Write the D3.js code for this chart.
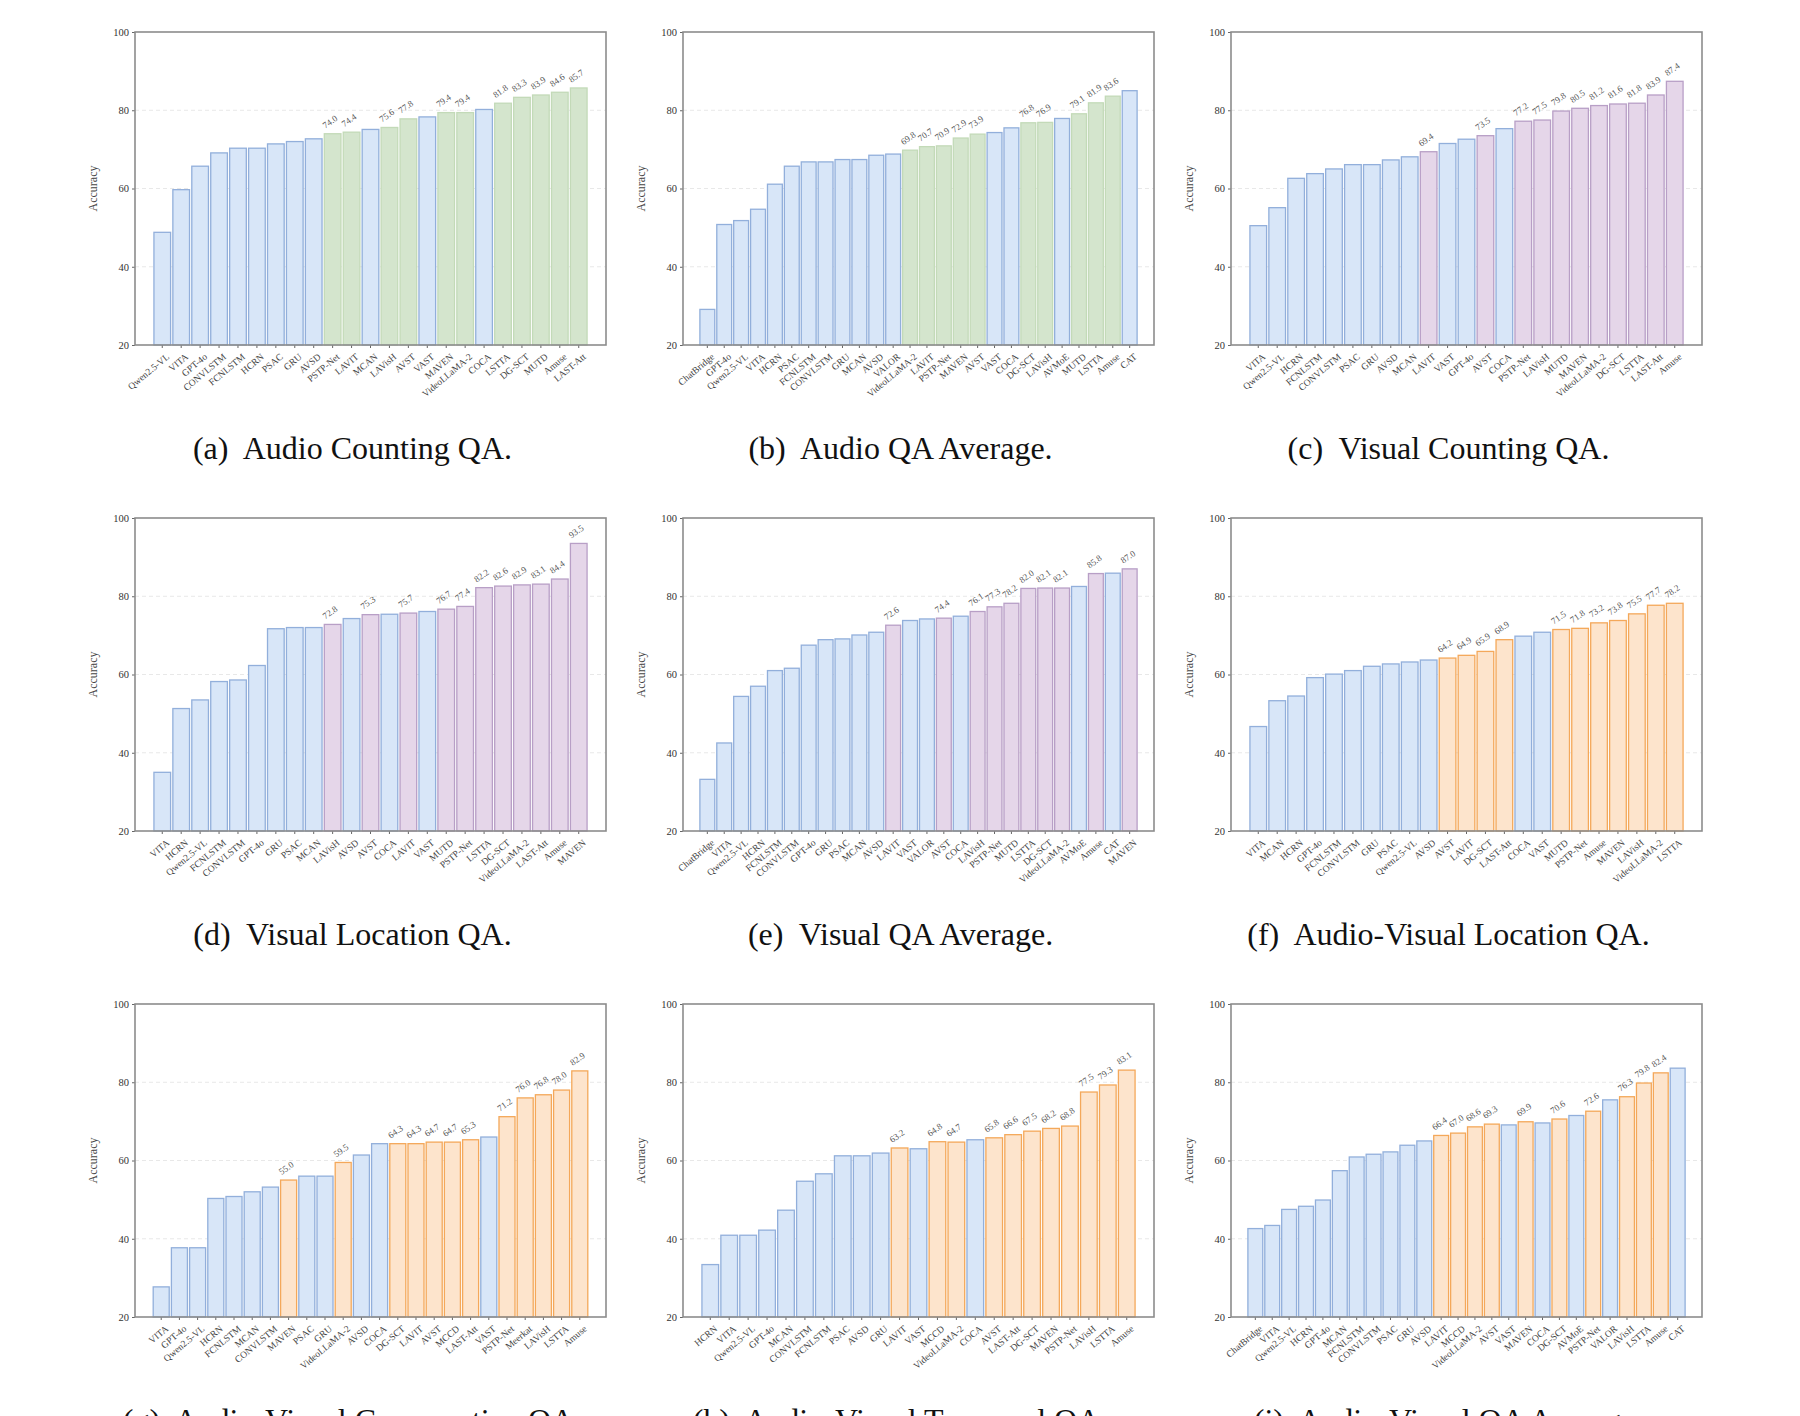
<!DOCTYPE html>
<html>
<head>
<meta charset="utf-8">
<script src="https://cdn.jsdelivr.net/npm/d3@7"></script>
<style>
  body { margin: 0; background: #fff; }
  text { font-family: "Liberation Serif", "DejaVu Serif", serif; }
</style>
</head>
<body>
<svg id="fig" width="1800" height="1416"></svg>
<script>
// panel data: model names, accuracy, and which bars are highlighted
var namesA = ["Qwen2.5-VL","VITA","GPT-4o","CONVLSTM","FCNLSTM","HCRN","PSAC","GRU","AVSD","PSTP-Net","LAVIT","MCAN","LAVisH","AVST","VAST","MAVEN","VideoLLaMA-2","COCA","LSTTA","DG-SCT","MUTD","Amuse","LAST-Att"];
var valsA = [48.8,59.7,65.7,69.1,70.3,70.3,71.4,72.0,72.7,74.0,74.4,75.1,75.6,77.8,78.3,79.4,79.4,80.2,81.8,83.3,83.9,84.6,85.7];
var hiA = [9,10,12,13,15,16,18,19,20,21,22];

var namesB = ["ChatBridge","GPT-4o","Qwen2.5-VL","VITA","HCRN","PSAC","FCNLSTM","CONVLSTM","GRU","MCAN","AVSD","VALOR","VideoLLaMA-2","LAVIT","PSTP-Net","MAVEN","AVST","VAST","COCA","DG-SCT","LAVisH","AVMoE","MUTD","LSTTA","Amuse","CAT"];
var valsB = [29.1,50.8,51.8,54.7,61.1,65.7,66.8,66.8,67.4,67.4,68.5,68.8,69.8,70.7,70.9,72.9,73.9,74.3,75.5,76.8,76.9,77.9,79.1,81.9,83.6,85.0];
var hiB = [12,13,14,15,16,19,20,22,23,24];

var namesC = ["VITA","Qwen2.5-VL","HCRN","FCNLSTM","CONVLSTM","PSAC","GRU","AVSD","MCAN","LAVIT","VAST","GPT-4o","AVST","COCA","PSTP-Net","LAVisH","MUTD","MAVEN","VideoLLaMA-2","DG-SCT","LSTTA","LAST-Att","Amuse"];
var valsC = [50.5,55.1,62.6,63.8,65.0,66.1,66.1,67.3,68.1,69.4,71.5,72.6,73.5,75.3,77.2,77.5,79.8,80.5,81.2,81.6,81.8,83.9,87.4];
var hiC = [9,12,14,15,16,17,18,19,20,21,22];

var namesD = ["VITA","HCRN","Qwen2.5-VL","FCNLSTM","CONVLSTM","GPT-4o","GRU","PSAC","MCAN","LAVisH","AVSD","AVST","COCA","LAVIT","VAST","MUTD","PSTP-Net","LSTTA","DG-SCT","VideoLLaMA-2","LAST-Att","Amuse","MAVEN"];
var valsD = [35.0,51.3,53.5,58.2,58.6,62.3,71.7,72.0,72.0,72.8,74.3,75.3,75.4,75.7,76.1,76.7,77.4,82.2,82.6,82.9,83.1,84.4,93.5];
var hiD = [9,11,13,15,16,17,18,19,20,21,22];

var namesE = ["ChatBridge","VITA","Qwen2.5-VL","HCRN","FCNLSTM","CONVLSTM","GPT-4o","GRU","PSAC","MCAN","AVSD","LAVIT","VAST","VALOR","AVST","COCA","LAVisH","PSTP-Net","MUTD","LSTTA","DG-SCT","VideoLLaMA-2","AVMoE","Amuse","CAT","MAVEN"];
var valsE = [33.2,42.5,54.4,57.0,61.0,61.6,67.5,68.9,69.1,70.1,70.8,72.6,73.8,74.2,74.4,74.9,76.1,77.3,78.2,82.0,82.1,82.1,82.5,85.8,85.9,87.0];
var hiE = [11,14,16,17,18,19,20,21,23,25];

var namesF = ["VITA","MCAN","HCRN","GPT-4o","FCNLSTM","CONVLSTM","GRU","PSAC","Qwen2.5-VL","AVSD","AVST","LAVIT","DG-SCT","LAST-Att","COCA","VAST","MUTD","PSTP-Net","Amuse","MAVEN","LAVisH","VideoLLaMA-2","LSTTA"];
var valsF = [46.7,53.3,54.5,59.2,60.1,61.0,62.1,62.7,63.2,63.7,64.2,64.9,65.9,68.9,69.8,70.8,71.5,71.8,73.2,73.8,75.5,77.7,78.2];
var hiF = [10,11,12,13,16,17,18,19,20,21,22];

var namesG = ["VITA","GPT-4o","Qwen2.5-VL","HCRN","FCNLSTM","MCAN","CONVLSTM","MAVEN","PSAC","GRU","VideoLLaMA-2","AVSD","COCA","DG-SCT","LAVIT","AVST","MCCD","LAST-Att","VAST","PSTP-Net","Meerkat","LAVisH","LSTTA","Amuse"];
var valsG = [27.7,37.7,37.7,50.3,50.8,52.0,53.2,55.0,56.0,56.0,59.5,61.4,64.3,64.3,64.3,64.7,64.7,65.3,66.0,71.2,76.0,76.8,78.0,82.9];
var hiG = [7,10,13,14,15,16,17,19,20,21,22,23];

var namesH = ["HCRN","VITA","Qwen2.5-VL","GPT-4o","MCAN","CONVLSTM","FCNLSTM","PSAC","AVSD","GRU","LAVIT","VAST","MCCD","VideoLLaMA-2","COCA","AVST","LAST-Att","DG-SCT","MAVEN","PSTP-Net","LAVisH","LSTTA","Amuse"];
var valsH = [33.4,40.9,40.9,42.2,47.3,54.7,56.6,61.2,61.2,61.9,63.2,63.0,64.8,64.7,65.3,65.8,66.6,67.5,68.2,68.8,77.5,79.3,83.1];
var hiH = [10,12,13,15,16,17,18,19,20,21,22];

var namesI = ["ChatBridge","VITA","Qwen2.5-VL","HCRN","GPT-4o","MCAN","FCNLSTM","CONVLSTM","PSAC","GRU","AVSD","LAVIT","MCCD","VideoLLaMA-2","AVST","VAST","MAVEN","COCA","DG-SCT","AVMoE","PSTP-Net","VALOR","LAVisH","LSTTA","Amuse","CAT"];
var valsI = [42.6,43.4,47.5,48.3,49.9,57.4,60.9,61.6,62.2,63.9,65.0,66.4,67.0,68.6,69.3,69.1,69.9,69.6,70.6,71.5,72.6,75.5,76.3,79.8,82.4,83.6];
var hiI = [11,12,13,14,16,18,20,22,23,24];

var captions = ["(a)  Audio Counting QA.","(b)  Audio QA Average.","(c)  Visual Counting QA.",
  "(d)  Visual Location QA.","(e)  Visual QA Average.","(f)  Audio-Visual Location QA.",
  "(g)  Audio-Visual Comparative QA.","(h)  Audio-Visual Temporal QA.","(i)  Audio-Visual QA Average."];
var yTicks = [20,40,60,80,100];

var blue = {fill:"#d8e6f8", stroke:"#92afdb"};
var palettes = {
  green: {fill:"#d4e5cd", stroke:"#c3dab8"},
  purple:{fill:"#e5d6e9", stroke:"#b89fc6"},
  orange:{fill:"#fde4cc", stroke:"#f4a85a"}
};

var panels = [
  {names:namesA, vals:valsA, hi:hiA, pal:"green"},
  {names:namesB, vals:valsB, hi:hiB, pal:"green"},
  {names:namesC, vals:valsC, hi:hiC, pal:"purple"},
  {names:namesD, vals:valsD, hi:hiD, pal:"purple"},
  {names:namesE, vals:valsE, hi:hiE, pal:"purple"},
  {names:namesF, vals:valsF, hi:hiF, pal:"orange"},
  {names:namesG, vals:valsG, hi:hiG, pal:"orange"},
  {names:namesH, vals:valsH, hi:hiH, pal:"orange"},
  {names:namesI, vals:valsI, hi:hiI, pal:"orange"}
];

var colX = [135, 683, 1231];
var rowY = [32, 518, 1004];
var W = 471, H = 313;

var svg = d3.select("#fig");

panels.forEach(function (p, k) {
  var g = svg.append("g")
    .attr("transform", "translate(" + colX[k % 3] + "," + rowY[Math.floor(k / 3)] + ")");

  var x = d3.scaleBand().domain(p.names).range([0, W]).paddingInner(0.12).paddingOuter(1.0);
  var y = d3.scaleLinear().domain([20, 100]).range([H, 0]);

  // grid
  g.selectAll(".grid").data([40, 60, 80]).enter().append("line")
    .attr("x1", 0).attr("x2", W)
    .attr("y1", function (d) { return y(d); }).attr("y2", function (d) { return y(d); })
    .attr("stroke", "#e2e2e2").attr("stroke-dasharray", "4,3").attr("stroke-width", 0.8);

  var data = p.names.map(function (n, i) {
    return {name: n, val: p.vals[i], hi: p.hi.indexOf(i) >= 0};
  });
  var pal = palettes[p.pal];

  g.selectAll(".bar").data(data).enter().append("rect")
    .attr("x", function (d) { return x(d.name); })
    .attr("width", x.bandwidth())
    .attr("y", function (d) { return y(d.val); })
    .attr("height", function (d) { return H - y(d.val); })
    .attr("fill", function (d) { return d.hi ? pal.fill : blue.fill; })
    .attr("stroke", function (d) { return d.hi ? pal.stroke : blue.stroke; })
    .attr("stroke-width", 1.3);

  // value labels on highlighted bars
  g.selectAll(".val").data(data.filter(function (d) { return d.hi; })).enter().append("text")
    .attr("transform", function (d) {
      return "translate(" + (x(d.name) + 1) + "," + (y(d.val) - 5) + ") rotate(-35)";
    })
    .attr("font-size", 9).attr("fill", "#555")
    .text(function (d) { return d.val.toFixed(1); });

  var yAxis = d3.axisLeft(y).tickValues(yTicks).tickSize(3).tickFormat(d3.format("d"));
  var ya = g.append("g").call(yAxis);
  ya.select(".domain").remove();
  ya.selectAll("text").attr("font-size", 10.5).attr("fill", "#333").attr("font-family", "Liberation Serif");
  ya.selectAll("line").attr("stroke", "#666");

  var xAxis = d3.axisBottom(x).tickSize(3);
  var xa = g.append("g").attr("transform", "translate(0," + H + ")").call(xAxis);
  xa.select(".domain").remove();
  xa.selectAll("line").attr("stroke", "#666");
  xa.selectAll("text")
    .attr("font-size", 9.5).attr("fill", "#444").attr("font-family", "Liberation Serif")
    .attr("text-anchor", "end")
    .attr("dy", "0.3em").attr("dx", "0")
    .attr("transform", "translate(2,6) rotate(-40)");

  // frame
  g.append("rect").attr("width", W).attr("height", H)
    .attr("fill", "none").attr("stroke", "#8c8c8c").attr("stroke-width", 1.6);

  g.append("text")
    .attr("transform", "translate(-38," + (H / 2) + ") rotate(-90)")
    .attr("text-anchor", "middle").attr("font-size", 12).attr("fill", "#444")
    .text("Accuracy");

  // captions of the last row are cut by the page edge, as in the reference
  g.append("text")
    .attr("x", W / 2 - 18).attr("y", 427)
    .attr("text-anchor", "middle").attr("font-size", 32).attr("fill", "#111")
    .attr("xml:space", "preserve")
    .text(captions[k]);
});
</script>
</body>
</html>
